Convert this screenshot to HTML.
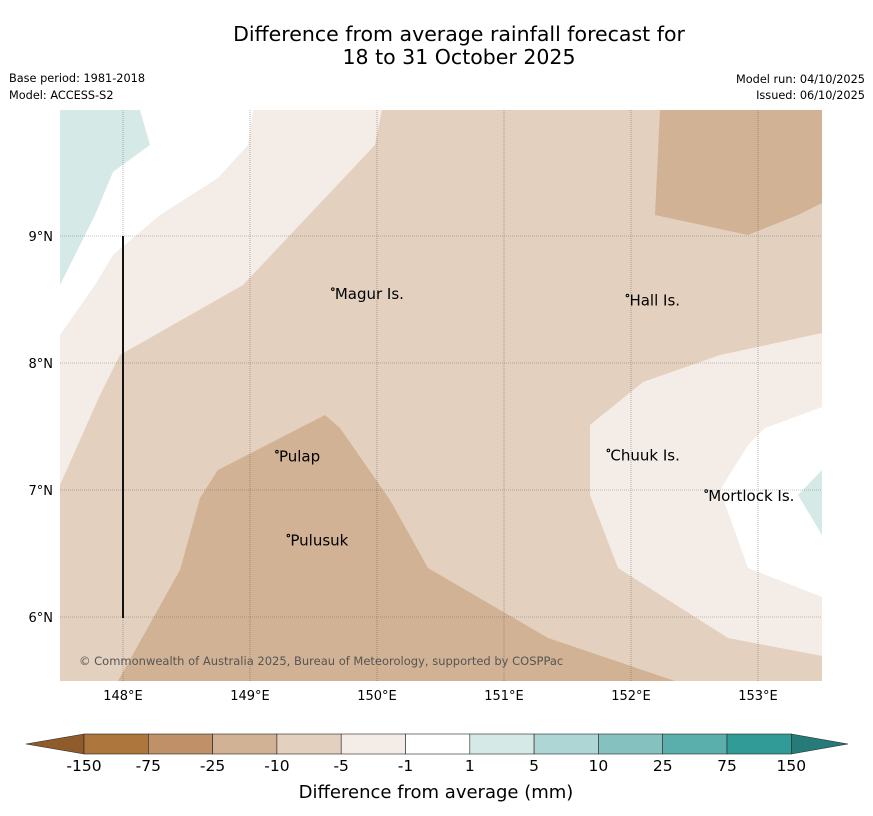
<!DOCTYPE html>
<html><head><meta charset="utf-8"><style>
body{margin:0;background:#fff;font-family:"DejaVu Sans","Liberation Sans",sans-serif}
#c{position:relative;width:873px;height:816px}
.t{position:absolute;font-size:11.3px;color:#000}
</style></head><body>
<div id="c">
<div style="position:absolute;left:0;width:918px;top:23px;text-align:center;font-size:20.5px;line-height:23px;font-family:'DejaVu Sans',sans-serif">Difference from average rainfall forecast for<br>18 to 31 October 2025</div>
<div class="t" style="left:9px;top:72px">Base period: 1981-2018</div>
<div class="t" style="left:9px;top:89px">Model: ACCESS-S2</div>
<div class="t" style="right:8px;top:73px;text-align:right">Model run: 04/10/2025</div>
<div class="t" style="right:8px;top:89px;text-align:right">Issued: 06/10/2025</div>
<svg id="s" width="873" height="816" style="position:absolute;left:0;top:0" font-family="DejaVu Sans, Liberation Sans, sans-serif"></svg>
</div>
<script>
const lonTicks=[148,149,150,151,152,153];
const latTicks=[6,7,8,9];
const levels=["-150","-75","-25","-10","-5","-1","1","5","10","25","75","150"];
const colors=["#ad763d","#c09169","#d2b294","#e3d0bf","#f4ece6","#ffffff","#d5e9e7","#add6d4","#85c2bf","#5aaeab","#319b98"];
const places=["Magur Is.","Hall Is.","Pulap","Chuuk Is.","Pulusuk","Mortlock Is."];
const placeLon=[149.66,151.98,149.22,151.83,149.31,152.6];
const placeLat=[8.55,8.5,7.27,7.28,6.61,6.96];
const NS="http://www.w3.org/2000/svg";
const svg=document.getElementById('s');
const X0=60,X1=822,Y0=110,Y1=681;
const xs=l=>123+(l-148)*127, ys=l=>236-(l-9)*127;
function mk(t,a){const e=document.createElementNS(NS,t);for(const k in a)e.setAttribute(k,a[k]);svg.appendChild(e);return e;}
let e=mk('rect',{x:X0,y:Y0,width:X1-X0,height:Y1-Y0,fill:colors[3]});


const polys=[
 ["light-region-west",colors[4],"60,110 382,110 375,145 243,285 120,355 100,395 60,485"],
 ["white-region-west",colors[5],"60,110 253,110 248,145 218,178 160,215 113,255 95,285 60,335"],
 ["teal-region-west",colors[6],"60,110 140,110 150,145 113,172 95,215 60,285"],
 ["dark-region-south",colors[2],"118,681 180,570 200,498 218,470 325,415 340,428 390,500 428,568 548,638 675,681"],
 ["dark-region-northeast",colors[2],"660,110 822,110 822,203 798,215 748,235 655,215"],
 ["light-region-east",colors[4],"590,425 643,382 720,355 822,333 822,656 728,638 618,568 590,495"],
 ["white-region-east",colors[5],"822,407 765,428 748,445 720,490 748,568 822,597"],
 ["teal-region-east",colors[6],"822,470 798,495 822,535"]];
for(const p of polys){e=mk('polygon',{points:p[2],fill:p[1]});

}
for(const l of lonTicks){const x=xs(l);
e=mk('line',{x1:x,x2:x,y1:Y0,y2:Y1,stroke:'#555','stroke-width':0.6,'stroke-dasharray':'1,1',opacity:0.7});


e=mk('text',{x:x,y:700,'text-anchor':'middle','font-size':13});e.textContent=l+'°E';

}
for(const l of latTicks){const y=ys(l);
e=mk('line',{x1:X0,x2:X1,y1:y,y2:y,stroke:'#555','stroke-width':0.6,'stroke-dasharray':'1,1',opacity:0.7});


e=mk('text',{x:53,y:y+5,'text-anchor':'end','font-size':13});e.textContent=l+'°N';

}
e=mk('line',{x1:123,x2:123,y1:236,y2:618,stroke:'#111','stroke-width':2});


places.forEach((n,i)=>{const x=xs(placeLon[i]),y=ys(placeLat[i]);
e=mk('circle',{cx:x-1,cy:y-4,r:1.3,fill:'none',stroke:'#000','stroke-width':1});


e=mk('text',{x:x+1,y:y+6,'font-size':15});e.textContent=n;

});
e=mk('text',{x:79,y:665,'font-size':11.5,fill:'#555'});e.textContent='© Commonwealth of Australia 2025, Bureau of Meteorology, supported by COSPPac';


const cbL=84,cbW=64.3,cbT=734,cbB=754;
e=mk('polygon',{points:`26,744 ${cbL},${cbT} ${cbL},${cbB}`,fill:'#8f5b2a',stroke:'#222','stroke-width':0.5});


colors.forEach((c,i)=>{e=mk('rect',{x:cbL+i*cbW,y:cbT,width:cbW,height:cbB-cbT,fill:c,stroke:'#222','stroke-width':0.6});

});
const cbR=cbL+colors.length*cbW;
e=mk('polygon',{points:`${cbR},${cbT} 848,744 ${cbR},${cbB}`,fill:'#267a77',stroke:'#222','stroke-width':0.5});


levels.forEach((l,i)=>{e=mk('text',{x:cbL+i*cbW,y:771,'text-anchor':'middle','font-size':15.5});e.textContent=l;

});
e=mk('text',{x:436,y:798,'text-anchor':'middle','font-size':18});e.textContent='Difference from average (mm)';


</script>
</body></html>
